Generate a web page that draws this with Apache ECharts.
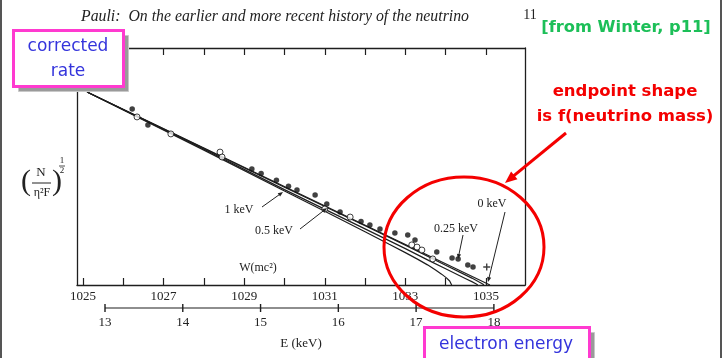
<!DOCTYPE html>
<html>
<head>
<meta charset="utf-8">
<title>Kurie plot near the endpoint</title>
<script src="https://cdn.jsdelivr.net/npm/echarts@6/dist/echarts.min.js"></script>
<style>
  html, body { margin: 0; padding: 0; background: #fff; }
  #chart { width: 726px; height: 358px; }
</style>
</head>
<body>
<div id="chart"></div>
<script>
// W axis is in units of 0.001 mc^2 (printed as 1025 = 1.025)
const wTicks = [1025, 1026, 1027, 1028, 1029, 1030, 1031, 1032, 1033, 1034, 1035];
const wLabels = [1025, 1027, 1029, 1031, 1033, 1035];
const wTopTicks = [1026, 1027, 1028, 1029, 1030, 1031, 1032, 1033, 1034, 1035];
const eTicks = [13, 14, 15, 16, 17, 18];

// theoretical curves for different neutrino masses
const curve0 = [[1025.1, 9.77], [1035.1, 0]];
const curve025 = [[1025.1, 9.77], [1030, 4.95], [1032, 3.0], [1033, 2.02], [1034, 1.0],
  [1034.4, 0.6], [1034.65, 0.35], [1034.82, 0.16], [1034.92, 0.05], [1034.95, 0]];
const curve05 = [[1025.1, 9.77], [1028, 6.88], [1030, 4.83], [1032, 2.84], [1033, 1.84],
  [1033.6, 1.22], [1034, 0.82], [1034.3, 0.52], [1034.5, 0.32], [1034.65, 0.17],
  [1034.75, 0.06], [1034.8, 0]];
const curve1 = [[1025.1, 9.77], [1028, 6.83], [1030, 4.76], [1031, 3.73], [1032, 2.70],
  [1032.6, 2.06], [1033, 1.64], [1033.3, 1.31], [1033.55, 1.02], [1033.75, 0.76],
  [1033.9, 0.55], [1034.02, 0.36], [1034.1, 0.2], [1034.15, 0]];

// measured points
const filledDots = [[1026.22, 8.91], [1026.61, 8.10], [1029.19, 5.87], [1029.42, 5.65],
  [1029.80, 5.30], [1030.10, 5.00], [1030.31, 4.81], [1030.76, 4.56], [1031.05, 4.10],
  [1031.38, 3.70], [1031.90, 3.22], [1032.12, 3.04], [1032.37, 2.84], [1032.74, 2.63],
  [1033.06, 2.53], [1033.24, 2.28], [1033.78, 1.67], [1034.16, 1.37], [1034.31, 1.32],
  [1034.55, 1.01], [1034.68, 0.91]];
const openDots = [[1026.34, 8.51], [1027.18, 7.65], [1028.40, 6.73], [1028.45, 6.48],
  [1031.00, 3.85], [1031.63, 3.44], [1033.16, 2.03], [1033.29, 1.92], [1033.41, 1.77],
  [1033.68, 1.32]];
const crossPoint = [[1035.02, 0.91]];

const SERIF = '"Liberation Serif", "DejaVu Serif", serif';
const HAND = '"Comic Sans MS", "DejaVu Sans", sans-serif';
const INK = '#1e1e1e';
const PINK = '#ff3ad0';
const BLUE = '#3434dc';
const RED = '#f40000';

function arrow(x1, y1, x2, y2, color, width, head) {
  const a = Math.atan2(y2 - y1, x2 - x1);
  const c = Math.cos(a), s = Math.sin(a);
  const bx = x2 - head * c, by = y2 - head * s;
  const w = head * 0.42;
  return [
    { type: 'line', z: 60, shape: { x1: x1, y1: y1, x2: bx + head * 0.3 * c, y2: by + head * 0.3 * s },
      style: { stroke: color, lineWidth: width } },
    { type: 'polygon', z: 60, shape: { points: [[x2, y2], [bx + w * s, by - w * c], [bx - w * s, by + w * c]] },
      style: { fill: color } }
  ];
}

function label(text, x, y, font, color, z) {
  return {
    type: 'text', x: x, y: y, z: z || 60,
    style: { text: text, font: font, fill: color, align: 'center', verticalAlign: 'middle',
      textAlign: 'center', textVerticalAlign: 'middle' }
  };
}

function noteBox(x, y, w, h) {
  return [
    { type: 'rect', z: 80, shape: { x: x + 5, y: y + 5, width: w, height: h },
      style: { fill: '#9a9a9a', stroke: '#c8c8c8', lineWidth: 1 } },
    { type: 'rect', z: 81, shape: { x: x, y: y, width: w, height: h },
      style: { fill: '#fff', stroke: PINK, lineWidth: 3 } }
  ];
}

const lineStyle = { color: INK, width: 1.2 };

function curveSeries(name, data) {
  return {
    name: name, type: 'line', xAxisIndex: 0, yAxisIndex: 0, data: data,
    showSymbol: false, smooth: false, lineStyle: lineStyle, z: 3
  };
}

const graphics = [].concat(
  // slide borders
  [{ type: 'line', z: 90, shape: { x1: 1, y1: 0, x2: 1, y2: 358 }, style: { stroke: '#555', lineWidth: 2 } },
   { type: 'line', z: 90, shape: { x1: 721, y1: 0, x2: 721, y2: 358 }, style: { stroke: '#555', lineWidth: 2 } }],
  // page header
  [label('Pauli:  On the earlier and more recent history of the neutrino', 275, 17, 'italic 15.8px ' + SERIF, '#222'),
   label('11', 530, 15, '14px ' + SERIF, '#222')],
  // y axis title (N / eta^2 F)^(1/2)
  [label('(', 26, 182, '30px ' + SERIF, '#222'),
   label(')', 57, 182, '30px ' + SERIF, '#222'),
   label('N', 41, 173, '13px ' + SERIF, '#222'),
   { type: 'line', z: 60, shape: { x1: 32, y1: 183, x2: 51, y2: 183 }, style: { stroke: '#222', lineWidth: 1 } },
   label('\u03b7\u00b2F', 42, 193, '12px ' + SERIF, '#222'),
   label('1', 62, 161, '9px ' + SERIF, '#222'),
   { type: 'line', z: 60, shape: { x1: 59, y1: 166, x2: 65, y2: 166 }, style: { stroke: '#222', lineWidth: 0.8 } },
   label('2', 62, 171, '9px ' + SERIF, '#222')],
  // curve labels
  [label('W(mc\u00b2)', 258, 268, '12px ' + SERIF, '#222'),
   label('1 keV', 239, 210, '12px ' + SERIF, '#222'),
   label('0.5 keV', 274, 231, '12px ' + SERIF, '#222'),
   label('0.25 keV', 456, 229, '12px ' + SERIF, '#222'),
   label('0 keV', 492, 204, '12px ' + SERIF, '#222')],
  arrow(262, 207, 283, 192, '#222', 1, 5),
  arrow(300, 229, 327, 208, '#222', 1, 5),
  arrow(463, 235, 458, 259, '#222', 1, 5),
  arrow(505, 212, 488, 282, '#222', 1, 5),
  // red annotation
  [{ type: 'ellipse', z: 70, shape: { cx: 464, cy: 247, rx: 80, ry: 70 },
     style: { fill: 'none', stroke: RED, lineWidth: 3 } },
   label('endpoint shape', 625, 92, 'bold 16.5px ' + HAND, RED),
   label('is f(neutrino mass)', 625, 117, 'bold 16.5px ' + HAND, RED),
   label('[from Winter, p11]', 626, 28, 'bold 16.3px ' + HAND, '#1cbf58')],
  arrow(566, 133, 505, 183, RED, 3, 12),
  // blue note boxes
  noteBox(13.5, 30.5, 110, 56),
  [label('corrected', 68, 47, '17px ' + HAND, BLUE, 95),
   label('rate', 68, 72, '17px ' + HAND, BLUE, 95)],
  noteBox(424.5, 327.5, 165, 40),
  [label('electron energy', 506, 345, '17px ' + HAND, BLUE, 95)]
);

const plainNumber = function (v) { return String(v); };

const chart = echarts.init(document.getElementById('chart'));
chart.setOption({
  animation: false,
  backgroundColor: '#fff',
  grid: [
    { left: 77, right: 201, top: 48, bottom: 73 },
    { left: 77, right: 201, top: 304, height: 8 }
  ],
  xAxis: [
    {
      gridIndex: 0, type: 'value', position: 'bottom', min: 1024.85, max: 1035.97,
      axisLine: { onZero: false, lineStyle: { color: INK, width: 1.3 } },
      axisTick: { inside: true, length: 7, customValues: wTicks, lineStyle: { color: INK, width: 1.2 } },
      axisLabel: { customValues: wLabels, formatter: plainNumber, margin: 5, color: '#222', fontSize: 13, fontFamily: SERIF },
      splitLine: { show: false }
    },
    {
      gridIndex: 0, type: 'value', position: 'top', min: 1024.85, max: 1035.97,
      axisLine: { onZero: false, lineStyle: { color: INK, width: 1.3 } },
      axisTick: { inside: true, length: 7, customValues: wTopTicks, lineStyle: { color: INK, width: 1.2 } },
      axisLabel: { show: false },
      splitLine: { show: false }
    },
    {
      gridIndex: 1, type: 'value', min: 12.64, max: 18.4,
      axisLine: { show: false }, axisTick: { show: false }, splitLine: { show: false },
      axisLabel: { customValues: eTicks, formatter: plainNumber, margin: 4, color: '#222', fontSize: 13, fontFamily: SERIF },
      name: 'E (keV)', nameLocation: 'middle', nameGap: 25,
      nameTextStyle: { color: '#222', fontSize: 13, fontFamily: SERIF }
    }
  ],
  yAxis: [
    {
      gridIndex: 0, type: 'value', min: 0, max: 12,
      axisLine: { show: true, onZero: false, lineStyle: { color: INK, width: 1.3 } },
      axisTick: { show: false }, axisLabel: { show: false }, splitLine: { show: false }
    },
    {
      gridIndex: 0, type: 'value', position: 'right', min: 0, max: 12,
      axisLine: { show: true, onZero: false, lineStyle: { color: INK, width: 1.3 } },
      axisTick: { show: false }, axisLabel: { show: false }, splitLine: { show: false }
    },
    { gridIndex: 1, type: 'value', min: -1, max: 1, show: false }
  ],
  series: [
    curveSeries('0 keV', curve0),
    curveSeries('0.25 keV', curve025),
    curveSeries('0.5 keV', curve05),
    curveSeries('1 keV', curve1),
    {
      name: 'filled', type: 'scatter', xAxisIndex: 0, yAxisIndex: 0, data: filledDots,
      symbol: 'circle', symbolSize: 5.5, itemStyle: { color: '#111' }, z: 5
    },
    {
      name: 'open', type: 'scatter', xAxisIndex: 0, yAxisIndex: 0, data: openDots,
      symbol: 'circle', symbolSize: 6,
      itemStyle: { color: '#fff', borderColor: '#111', borderWidth: 1 }, z: 5
    },
    {
      name: 'cross', type: 'scatter', xAxisIndex: 0, yAxisIndex: 0, data: crossPoint,
      symbol: 'path://M4,0H6V4H10V6H6V10H4V6H0V4H4Z', symbolSize: 7,
      itemStyle: { color: '#111' }, z: 5
    },
    {
      // energy scale line with its tick marks
      name: 'E scale', type: 'line', xAxisIndex: 2, yAxisIndex: 2,
      data: eTicks.map(function (e) { return [e, 0]; }),
      symbol: 'path://M0,0H1V10H0Z', symbolSize: [1.4, 8], showSymbol: true,
      itemStyle: { color: INK }, lineStyle: { color: INK, width: 1.2 }
    }
  ],
  graphic: { elements: graphics }
});
</script>
</body>
</html>
